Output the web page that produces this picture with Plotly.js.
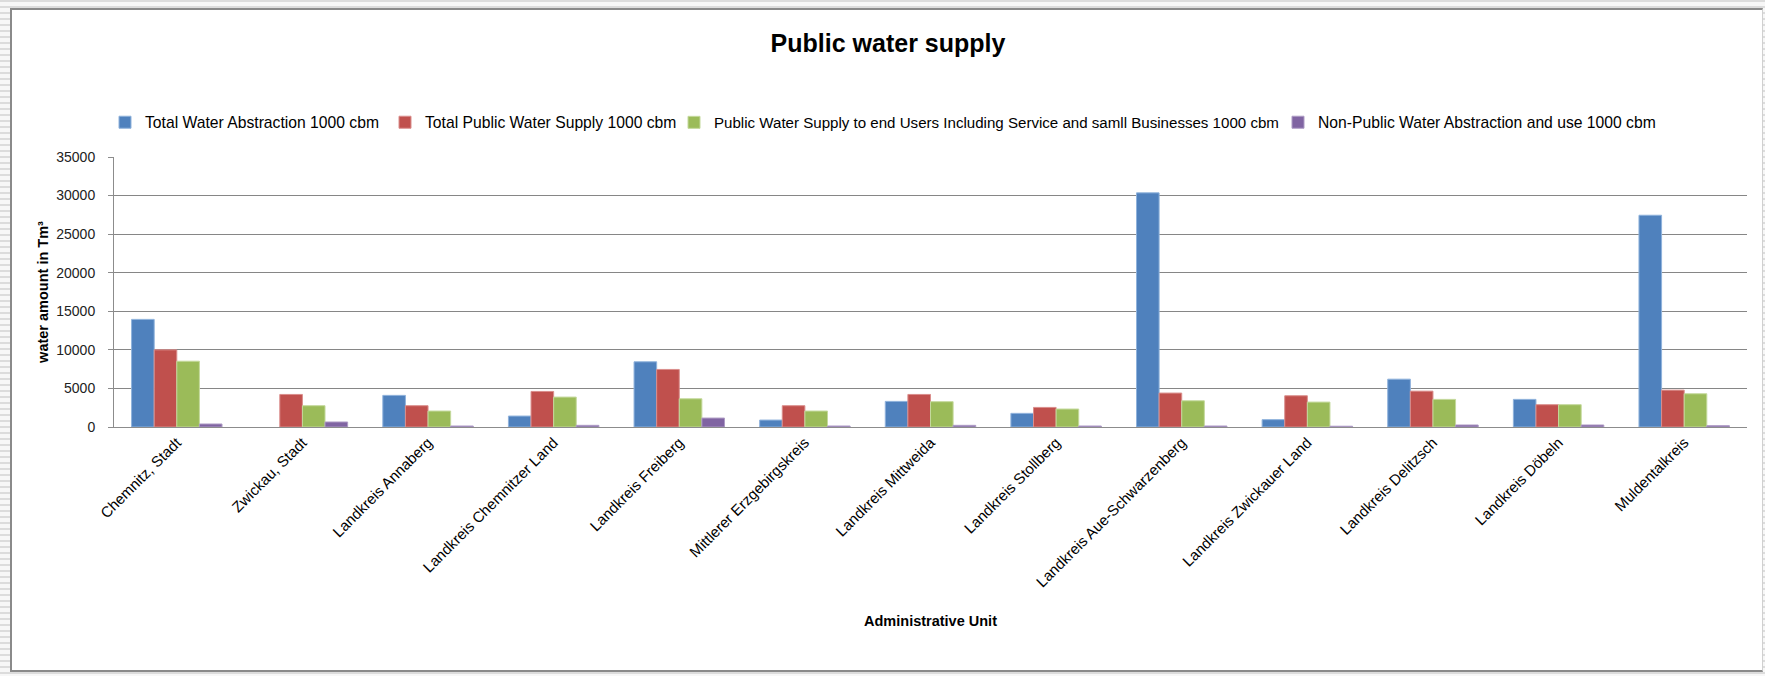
<!DOCTYPE html>
<html>
<head>
<meta charset="utf-8">
<script src="https://cdn.plot.ly/plotly-3.0.1.min.js"></script>
<style>
  html, body { margin: 0; padding: 0; }
  #wrap {
    position: relative; width: 1765px; height: 676px; overflow: hidden;
    background: repeating-linear-gradient(to bottom, #dcdcdc 0px, #dcdcdc 2px, #f7f7f7 2px, #f7f7f7 6px);
  }
  #frame {
    position: absolute; left: 10px; top: 8px; width: 1753px; height: 664px;
    background: #ffffff; border: 2px solid #8a8a8a; border-right: 1px solid #d0d0d0; box-sizing: border-box;
  }
  #chart { position: absolute; left: 0; top: 0; width: 1765px; height: 676px; }
</style>
</head>
<body>
<div id="wrap">
  <div id="frame"></div>
  <div id="chart"></div>
</div>
<script>
const categories = [
  "Chemnitz, Stadt", "Zwickau, Stadt", "Landkreis Annaberg", "Landkreis Chemnitzer Land",
  "Landkreis Freiberg", "Mittlerer Erzgebirgskreis", "Landkreis Mittweida", "Landkreis Stollberg",
  "Landkreis Aue-Schwarzenberg", "Landkreis Zwickauer Land", "Landkreis Delitzsch", "Landkreis Döbeln",
  "Muldentalkreis"
];
const seriesNames = [
  "Total Water Abstraction 1000 cbm",
  "Total Public Water Supply 1000 cbm",
  "Public Water Supply to end Users Including Service and samll Businesses 1000 cbm",
  "Non-Public Water Abstraction and use 1000 cbm"
];
const totalAbstraction = [13950, null, 4100, 1420, 8450, 900, 3320, 1770, 30350, 950, 6200, 3580, 27450];
const totalPublicSupply = [10000, 4220, 2760, 4610, 7460, 2760, 4220, 2540, 4400, 4050, 4650, 2890, 4780];
const supplyEndUsers = [8530, 2760, 2070, 3880, 3660, 2070, 3280, 2330, 3400, 3230, 3580, 2890, 4310];
const nonPublic = [390, 650, 130, 215, 1160, 130, 215, 130, 130, 100, 260, 260, 170];
const yTicks = [0, 5000, 10000, 15000, 20000, 25000, 30000, 35000];

const colors = ["#4F81BD", "#C0504D", "#9BBB59", "#8064A2"];
const edge = ["#8FB2DC", "#DA8E8C", "#C4D99C", "#AD9BC4"];
const values = [totalAbstraction, totalPublicSupply, supplyEndUsers, nonPublic];
const legendIds = ["legend", "legend2", "legend3", "legend4"];

const FONT = "Liberation Sans, Arial, sans-serif";

const traces = values.map((v, i) => ({
  type: "bar",
  name: seriesNames[i],
  x: categories,
  y: v,
  legend: legendIds[i],
  marker: { color: colors[i], line: { color: edge[i], width: 1 } }
}));

const L = 114, R = 1747, T = 156.5, B = 426.7;
const W = 1765, H = 676;
const pw = R - L, ph = B - T;
function px2x(p) { return (p - L) / pw; }
function py2y(p) { return (B - p) / ph; }

const textStarts = [145, 425, 714, 1318];
const legendSizes = [15.7, 15.7, 15.1, 15.7];
const legendY = py2y(122);
const layout = {
  width: W, height: H,
  paper_bgcolor: "rgba(0,0,0,0)",
  plot_bgcolor: "rgba(0,0,0,0)",
  margin: { l: L, r: W - R, t: T, b: H - B, pad: 0 },
  font: { family: FONT, color: "#000" },
  title: {
    text: "Public water supply",
    x: 888 / W, xref: "container", xanchor: "center",
    y: 1 - 43 / H, yref: "container", yanchor: "middle",
    font: { size: 25, weight: "bold", family: FONT, color: "#000" }
  },
  barmode: "group",
  bargap: 0.28,
  bargroupgap: 0,
  showlegend: true,
  xaxis: {
    type: "category",
    tickangle: -45,
    tickfont: { size: 15, family: FONT, color: "#000" },
    showline: true, linecolor: "#8c8c8c", linewidth: 1,
    ticks: "", showgrid: false,
    title: { text: "Administrative Unit", font: { size: 14.5, weight: "bold", family: FONT }, standoff: 26 }
  },
  yaxis: {
    range: [0, 35000],
    tickvals: yTicks,
    ticktext: yTicks.map(String),
    tickfont: { size: 14, family: FONT, color: "#222" },
    ticklabelstandoff: 10,
    showgrid: true, gridcolor: "#868686", gridwidth: 1.2,
    zeroline: false,
    showline: true, linecolor: "#8c8c8c", linewidth: 1,
    ticks: "outside", ticklen: 5, tickcolor: "#8c8c8c",
    title: { text: "water amount in Tm³", font: { size: 14.5, weight: "bold", family: FONT }, standoff: 4 }
  }
};
legendIds.forEach((id, i) => {
  layout[id] = {
    orientation: "h",
    x: px2x(textStarts[i] - 40), xanchor: "left",
    y: legendY, yanchor: "middle",
    bgcolor: "rgba(0,0,0,0)", borderwidth: 0,
    font: { size: legendSizes[i], family: FONT, color: "#000" }
  };
});

Plotly.newPlot("chart", traces, layout, { displayModeBar: false, staticPlot: true });
</script>
</body>
</html>
